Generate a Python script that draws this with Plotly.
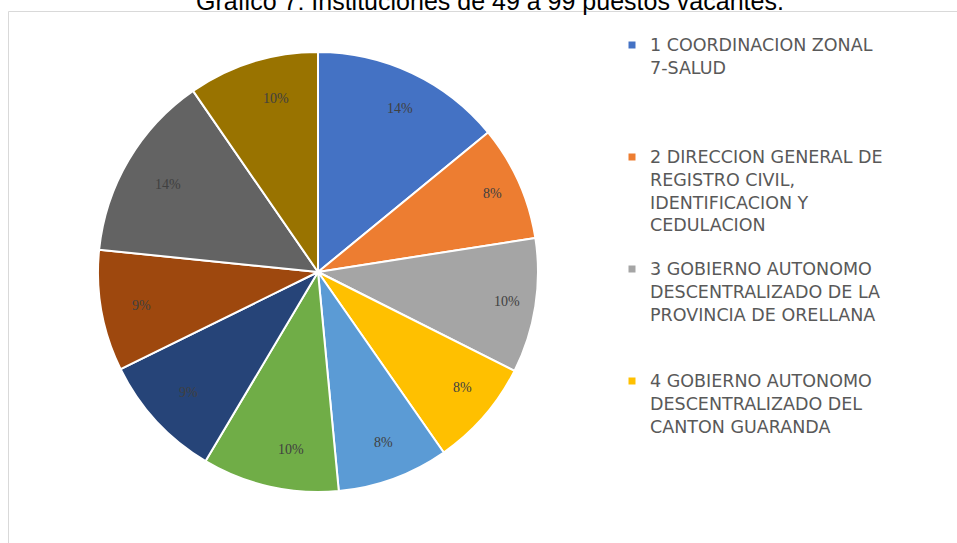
import math
import plotly.graph_objects as go

# ---------------- data ----------------
title_text = "Gráfico 7: Instituciones de 49 a 99 puestos vacantes."
institutions = [
    "1 COORDINACION ZONAL<br>7-SALUD",
    "2 DIRECCION GENERAL DE<br>REGISTRO CIVIL,<br>IDENTIFICACION Y<br>CEDULACION",
    "3 GOBIERNO AUTONOMO<br>DESCENTRALIZADO DE LA<br>PROVINCIA DE ORELLANA",
    "4 GOBIERNO AUTONOMO<br>DESCENTRALIZADO DEL<br>CANTON GUARANDA",
    "5", "6", "7", "8", "9", "10",
]
vacantes = [98, 59, 69, 55, 57, 70, 64, 62, 96, 67]
colors = ["#4472C4", "#ED7D31", "#A5A5A5", "#FFC000", "#5B9BD5",
          "#70AD47", "#264478", "#9E480E", "#636363", "#997300"]
legend_shown = 4          # the reference legend is truncated after 4 entries

W, H = 957, 543
CX, CY, R = 318, 272, 220  # pie centre / radius in px

fig = go.Figure()
fig.add_trace(go.Pie(
    labels=institutions,
    values=vacantes,
    sort=False,
    direction="clockwise",
    rotation=0,
    marker=dict(colors=colors, line=dict(color="white", width=2)),
    textinfo="none",
    hoverinfo="label+percent",
    showlegend=False,
    domain=dict(x=[(CX - R) / W, (CX + R) / W],
                y=[(H - CY - R) / H, (H - CY + R) / H]),
))

# percentage labels near the outer edge of each slice (computed from data)
total = sum(vacantes)
cum = 0
for v in vacantes:
    mid = 2 * math.pi * (cum + v / 2) / total
    cum += v
    px = CX + 0.87 * R * math.sin(mid)
    py = CY - 0.87 * R * math.cos(mid)
    fig.add_annotation(
        x=px / W, y=(H - py) / H, xref="paper", yref="paper",
        text=f"{round(100 * v / total)}%", showarrow=False,
        font=dict(family="Liberation Serif", size=14, color="#404040"),
    )

# title (cut at the top edge as in the reference)
fig.add_annotation(
    x=490 / W, y=(H - 1) / H, xref="paper", yref="paper",
    text=title_text, showarrow=False, yanchor="middle",
    font=dict(family="Liberation Sans", size=25, color="#000000"),
)

# legend (Excel-style, truncated, evenly spread entries)
LEG_X_SYM, LEG_X_TXT = 632, 648
LEG_Y0, LEG_STEP = 45, 112
LFS = 17.5
for i in range(legend_shown):
    yc = LEG_Y0 + i * LEG_STEP
    fig.add_shape(type="rect", xref="paper", yref="paper",
                  x0=(LEG_X_SYM - 3.5) / W, x1=(LEG_X_SYM + 3.5) / W,
                  y0=(H - yc - 3.5) / H, y1=(H - yc + 3.5) / H,
                  fillcolor=colors[i], line=dict(width=0))
    fig.add_annotation(
        x=LEG_X_TXT / W, y=(H - (yc - LFS * 0.65 - 1)) / H,
        xref="paper", yref="paper", xanchor="left", yanchor="top",
        align="left", showarrow=False, text=institutions[i],
        font=dict(family="DejaVu Sans", size=LFS, color="#595959"),
    )

# frame of the chart area
fig.add_shape(type="rect", xref="paper", yref="paper",
              x0=8.5 / W, x1=1.2, y0=-0.2, y1=(H - 11.5) / H,
              line=dict(color="#D9D9D9", width=1), fillcolor="rgba(0,0,0,0)",
              layer="below")

fig.update_layout(
    width=W, height=H,
    margin=dict(l=0, r=0, t=0, b=0),
    paper_bgcolor="white", plot_bgcolor="white",
    showlegend=False,
)

fig.write_html("out.html")
